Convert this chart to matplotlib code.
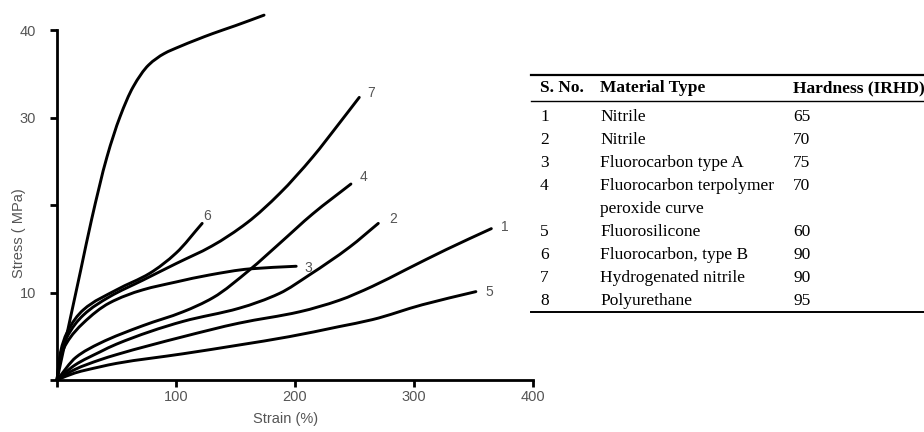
import matplotlib
matplotlib.use('Agg')
import matplotlib.pyplot as plt
from matplotlib.lines import Line2D
from matplotlib.path import Path
from matplotlib.patches import PathPatch

# stress-strain curves: strain (%) and stress (MPa)
strain_1 = [0, 15, 36, 50, 106, 153, 204, 237, 265, 293, 327, 365]
stress_1 = [0, 1.2, 2.3, 2.9, 4.95, 6.5, 7.8, 9.1, 10.7, 12.6, 14.9, 17.3]
strain_2 = [0, 15, 36, 50, 106, 153, 187, 212, 246, 270]
stress_2 = [0, 1.7, 3.2, 4.1, 6.7, 8.2, 9.9, 12.0, 15.2, 17.9]
strain_3 = [0, 3, 8, 22, 44, 72, 100, 128, 162, 201]
stress_3 = [0, 2.6, 4.2, 6.5, 8.8, 10.3, 11.2, 12.0, 12.7, 13.0]
strain_4 = [0, 16, 36, 72, 106, 131, 162, 187, 215, 247]
stress_4 = [0, 2.6, 4.2, 6.2, 7.8, 9.4, 12.6, 15.6, 19.0, 22.4]
strain_5 = [0, 15, 36, 50, 106, 153, 195, 237, 265, 307, 352]
stress_5 = [0, 0.8, 1.5, 1.9, 3.0, 4.0, 4.95, 6.1, 6.9, 8.6, 10.1]
strain_6 = [0, 3, 8, 22, 50, 78, 100, 122]
stress_6 = [0, 3.2, 5.3, 8.0, 10.3, 12.2, 14.5, 17.9]
strain_7 = [0, 3, 8, 22, 44, 72, 100, 130, 160, 187, 215, 237, 254]
stress_7 = [0, 2.9, 4.8, 7.4, 9.5, 11.4, 13.3, 15.3, 18.0, 21.3, 25.5, 29.3, 32.3]
strain_8 = [0, 10, 20, 29, 42, 53, 64, 77, 90, 103, 131, 150, 174]
stress_8 = [0, 6.3, 12.6, 18.3, 25.5, 30.1, 33.5, 36.0, 37.3, 38.1, 39.6, 40.5, 41.7]

curves = {
    '1': (strain_1, stress_1), '2': (strain_2, stress_2),
    '3': (strain_3, stress_3), '4': (strain_4, stress_4),
    '5': (strain_5, stress_5), '6': (strain_6, stress_6),
    '7': (strain_7, stress_7), '8': (strain_8, stress_8),
}
# where each curve number sits relative to the curve end (points)
label_offsets = {'1': (7, 1), '2': (8, 3), '3': (6, -1), '4': (6, 5),
                 '5': (7, 0), '6': (1, 5), '7': (6, 3), '8': (4, -1)}

x_ticks = [0, 100, 200, 300, 400]
x_ticklabels = ['', '100', '200', '300', '400']
y_ticks = [0, 10, 20, 30, 40]
y_ticklabels = ['', '10', '', '30', '40']

# table on the right
table_header = ['S. No.', 'Material Type', 'Hardness (IRHD)']
table_no = ['1', '2', '3', '4', '', '5', '6', '7', '8']
table_material = ['Nitrile', 'Nitrile', 'Fluorocarbon type A', 'Fluorocarbon terpolymer',
                  'peroxide curve', 'Fluorosilicone', 'Fluorocarbon, type B',
                  'Hydrogenated nitrile', 'Polyurethane']
table_hardness = ['65', '70', '75', '70', '', '60', '90', '90', '95']


def smooth_path(xs, ys):
    # monotone cubic (Fritsch-Carlson) through the points, as bezier segments
    n = len(xs)
    h = [xs[i + 1] - xs[i] for i in range(n - 1)]
    d = [(ys[i + 1] - ys[i]) / h[i] for i in range(n - 1)]
    m = [d[0]] + [0.0] * (n - 2) + [d[-1]]
    for k in range(1, n - 1):
        if d[k - 1] * d[k] > 0:
            w1 = 2 * h[k] + h[k - 1]
            w2 = h[k] + 2 * h[k - 1]
            m[k] = (w1 + w2) / (w1 / d[k - 1] + w2 / d[k])
    verts = [(xs[0], ys[0])]
    codes = [Path.MOVETO]
    for i in range(n - 1):
        verts += [(xs[i] + h[i] / 3, ys[i] + m[i] * h[i] / 3),
                  (xs[i + 1] - h[i] / 3, ys[i + 1] - m[i + 1] * h[i] / 3),
                  (xs[i + 1], ys[i + 1])]
        codes += [Path.CURVE4] * 3
    return Path(verts, codes)


W, H = 924, 432
fig = plt.figure(figsize=(W / 100, H / 100), dpi=100)
ax = fig.add_axes([57 / W, 1 - 380 / H, 476 / W, 350 / H])

grey = '#555555'
for name, (xs, ys) in curves.items():
    ax.add_patch(PathPatch(smooth_path(xs, ys), fill=False, edgecolor='black',
                           lw=2.1, clip_on=False, capstyle='round'))
    ax.annotate(name, (xs[-1], ys[-1]), xytext=label_offsets[name],
                textcoords='offset points', ha='left', va='center',
                fontsize=10, color=grey, family='Liberation Sans')

ax.set_xlim(0, 400)
ax.set_ylim(0, 40)
for s in ['top', 'right']:
    ax.spines[s].set_visible(False)
for s in ['left', 'bottom']:
    ax.spines[s].set_linewidth(2.0)
ax.set_xticks(x_ticks)
ax.set_xticklabels(x_ticklabels)
ax.set_yticks(y_ticks)
ax.set_yticklabels(y_ticklabels)
ax.tick_params(direction='out', length=5, width=2, colors='black',
               labelcolor=grey, labelsize=10.5)
ax.tick_params(axis='y', pad=10)
ax.tick_params(axis='x', pad=2)
for lab in ax.get_xticklabels() + ax.get_yticklabels():
    lab.set_family('Liberation Sans')

fig.text(19 / W, 1 - 233 / H, 'Stress ( MPa)', rotation=90, ha='center', va='center',
         fontsize=10.5, color=grey, family='Liberation Sans')
fig.text(286 / W, 1 - 419 / H, 'Strain (%)', ha='center', va='center',
         fontsize=10.5, color=grey, family='Liberation Sans')

# table
col_x = [540, 600, 793]
tfont = dict(family='Liberation Serif', fontsize=12.5, color='black', va='center')
for cx, txt in zip(col_x, table_header):
    fig.text(cx / W, 1 - 88 / H, txt, fontweight='bold', **tfont)
for k in range(len(table_material)):
    yy = 1 - (117 + 23 * k) / H
    fig.text(col_x[0] / W, yy, table_no[k], **tfont)
    fig.text(col_x[1] / W, yy, table_material[k], **tfont)
    fig.text(col_x[2] / W, yy, table_hardness[k], **tfont)
for ypx, lw in [(75, 1.6), (100.5, 1.0), (312, 1.4)]:
    fig.add_artist(Line2D([531 / W, 1.0], [1 - ypx / H, 1 - ypx / H],
                          color='black', lw=lw))

fig.savefig('out.png', dpi=100)
